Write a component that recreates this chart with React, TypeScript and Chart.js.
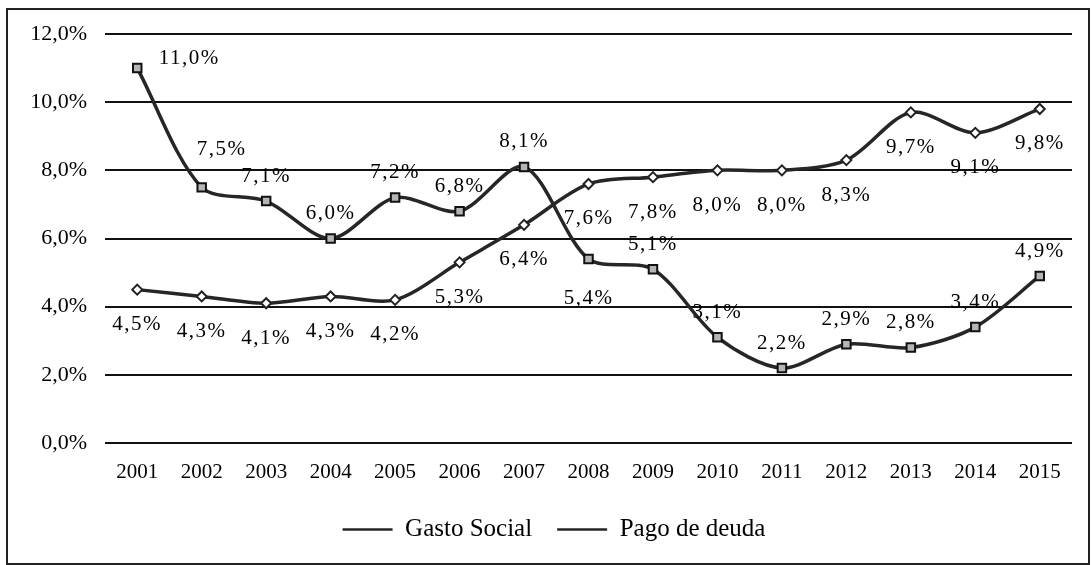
import React, { useEffect, useRef } from 'react';
import { Chart, registerables } from 'chart.js';

Chart.register(...registerables);

const years = ['2001', '2002', '2003', '2004', '2005', '2006', '2007', '2008', '2009', '2010', '2011', '2012', '2013', '2014', '2015'];
const gastoSocial = [4.5, 4.3, 4.1, 4.3, 4.2, 5.3, 6.4, 7.6, 7.8, 8.0, 8.0, 8.3, 9.7, 9.1, 9.8];
const pagoDeuda = [11.0, 7.5, 7.1, 6.0, 7.2, 6.8, 8.1, 5.4, 5.1, 3.1, 2.2, 2.9, 2.8, 3.4, 4.9];
const yTicks = [0, 2, 4, 6, 8, 10, 12];
const seriesNames = ['Gasto Social', 'Pago de deuda'];
const pagoLabelPlacement = ['right', 'aboveRight', 'above', 'above', 'above', 'above', 'above', 'below', 'above', 'above', 'above', 'above', 'above', 'above', 'above'];

const FONT = '"Liberation Serif", "Times New Roman", serif';
const fmt = (v: number) => v.toFixed(1).replace('.', ',') + '%';

const valueLabels = {
  id: 'valueLabels',
  afterDatasetsDraw(chart: any) {
    const ctx = chart.ctx;
    ctx.save();
    ctx.font = `21px ${FONT}`;
    try { (ctx as any).letterSpacing = '1.5px'; } catch (e) { /* ignore */ }
    ctx.fillStyle = '#000';
    ctx.textAlign = 'center';
    ctx.textBaseline = 'middle';
    chart.data.datasets.forEach((ds: any, di: number) => {
      const meta = chart.getDatasetMeta(di);
      meta.data.forEach((pt: any, i: number) => {
        const v = ds.data[i];
        let dx = 0;
        let dy = 0;
        if (di === 0) {
          dy = 35;
        } else {
          const p = pagoLabelPlacement[i];
          if (p === 'right') { dx = 52; dy = -10; }
          else if (p === 'aboveRight') { dx = 20; dy = -38; }
          else if (p === 'below') { dy = 40; }
          else { dy = -25; }
        }
        ctx.fillText(fmt(v), pt.x + dx, pt.y + dy);
      });
    });
    ctx.restore();
  },
};

const shiftLegend = {
  id: 'shiftLegend',
  afterLayout(chart: any) {
    const lg = chart.legend;
    if (lg) {
      lg.left += 8;
      lg.right += 8;
    }
  },
};

export default function App() {
  const ref = useRef<HTMLCanvasElement | null>(null);

  useEffect(() => {
    if (!ref.current) return;
    const chart = new Chart(ref.current, {
      type: 'line',
      data: {
        labels: years,
        datasets: [
          {
            label: seriesNames[0],
            data: gastoSocial,
            borderColor: '#262626',
            borderWidth: 3.5,
            tension: 0.3,
            pointStyle: 'rectRot',
            pointRadius: 5,
            pointBackgroundColor: '#ffffff',
            pointBorderColor: '#222',
            pointBorderWidth: 2,
          },
          {
            label: seriesNames[1],
            data: pagoDeuda,
            borderColor: '#262626',
            borderWidth: 3.5,
            tension: 0.3,
            pointStyle: 'rect',
            pointRadius: 6,
            pointBackgroundColor: '#b5b5b5',
            pointBorderColor: '#111',
            pointBorderWidth: 2,
          },
        ],
      },
      plugins: [valueLabels, shiftLegend],
      options: {
        animation: false,
        responsive: true,
        maintainAspectRatio: false,
        layout: { padding: { top: 34, left: 20, right: 19, bottom: 13 } },
        plugins: {
          tooltip: { enabled: false },
          legend: {
            position: 'bottom',
            labels: {
              color: '#000',
              font: { family: FONT, size: 25 },
              usePointStyle: true,
              pointStyleWidth: 50,
              padding: 25,
              generateLabels: (c: any) =>
                c.data.datasets.map((ds: any, i: number) => ({
                  text: ds.label,
                  fillStyle: '#262626',
                  strokeStyle: '#262626',
                  lineWidth: 2.5,
                  pointStyle: 'line',
                  datasetIndex: i,
                  hidden: false,
                })),
            },
          },
        },
        scales: {
          x: {
            offset: true,
            grid: { display: false },
            border: { display: false },
            ticks: {
              color: '#000',
              font: { family: FONT, size: 21 },
              padding: 9,
              maxRotation: 0,
              autoSkip: false,
            },
            afterFit: (s: any) => { s.height = 49; },
          },
          y: {
            min: 0,
            max: 12,
            afterBuildTicks: (s: any) => { s.ticks = yTicks.map((v) => ({ value: v })); },
            grid: { color: '#111', lineWidth: 2, drawTicks: false },
            border: { display: false },
            ticks: {
              color: '#000',
              font: { family: FONT, size: 22 },
              padding: 18,
              callback: (v: any) => fmt(Number(v)),
            },
            afterFit: (s: any) => { s.width = 85; },
          },
        },
      },
    });
    return () => chart.destroy();
  }, []);

  return (
    <div style={{ position: 'fixed', left: 0, top: 0, width: 1091, height: 565, background: '#fff' }}>
      <canvas ref={ref} />
      <div
        style={{
          position: 'absolute',
          left: 6,
          top: 8,
          width: 1080,
          height: 553,
          border: '2px solid #222',
          pointerEvents: 'none',
        }}
      />
    </div>
  );
}
